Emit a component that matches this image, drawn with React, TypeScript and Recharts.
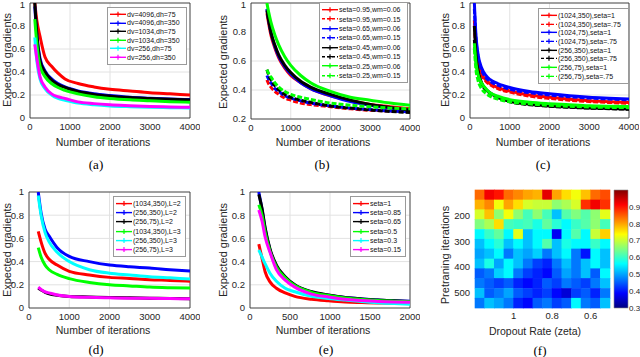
import React from 'react'
import {
  Bar,
  BarChart,
  CartesianGrid,
  Line,
  LineChart,
  ReferenceArea,
  Scatter,
  ScatterChart,
  XAxis,
  YAxis,
} from 'recharts'

const FONT = '"Liberation Sans", Arial, sans-serif'
const SERIF = '"Liberation Serif", "Times New Roman", serif'
const AXIS = '#262626'
const GRID = '#e2e2e2'

// shared ticks
const ticks4k = [0, 1000, 2000, 3000, 4000]
const ticks2k = [0, 500, 1000, 1500, 2000]
const ticksUnit = [0, 0.2, 0.4, 0.6, 0.8, 1]
const ticksB = [0.2, 0.4, 0.6, 0.8, 1]

// (a) dv / dh
const itersA = [120, 170, 250, 375, 540, 700, 875, 1200, 1600, 2000, 2500, 3000, 3500, 4000]
const a4096_75 = [1.0, 0.85, 0.71, 0.53, 0.45, 0.39, 0.34, 0.3, 0.27, 0.25, 0.235, 0.22, 0.21, 0.2]
const a4096_350 = [0.97, 0.72, 0.52, 0.41, 0.34, 0.3, 0.27, 0.235, 0.21, 0.195, 0.18, 0.172, 0.165, 0.16]
const a1034_75 = [1.0, 0.74, 0.5, 0.4, 0.33, 0.29, 0.265, 0.23, 0.205, 0.19, 0.178, 0.17, 0.162, 0.157]
const a1034_350 = [0.86, 0.65, 0.45, 0.36, 0.3, 0.265, 0.24, 0.21, 0.185, 0.17, 0.158, 0.15, 0.142, 0.137]
const a256_75 = [0.7, 0.5, 0.34, 0.255, 0.2, 0.17, 0.155, 0.13, 0.115, 0.105, 0.098, 0.093, 0.09, 0.088]
const a256_350 = [0.64, 0.52, 0.36, 0.27, 0.21, 0.185, 0.17, 0.14, 0.125, 0.115, 0.107, 0.1, 0.096, 0.093]

// (b) seta / wm
const itersB = [400, 450, 500, 600, 700, 850, 1000, 1250, 1500, 2000, 2500, 3000, 3500, 4000]
const b95_06 = [0.93, 0.85, 0.78, 0.69, 0.62, 0.55, 0.5, 0.45, 0.41, 0.36, 0.33, 0.3, 0.285, 0.27]
const b95_15 = [0.47, 0.44, 0.42, 0.39, 0.37, 0.345, 0.33, 0.31, 0.3, 0.285, 0.27, 0.26, 0.255, 0.25]
const b65_06 = [0.96, 0.87, 0.8, 0.7, 0.63, 0.56, 0.51, 0.45, 0.41, 0.36, 0.32, 0.295, 0.275, 0.26]
const b65_15 = [0.5, 0.47, 0.45, 0.41, 0.39, 0.36, 0.345, 0.325, 0.31, 0.29, 0.275, 0.265, 0.255, 0.25]
const b45_06 = [0.95, 0.87, 0.8, 0.71, 0.64, 0.57, 0.52, 0.46, 0.42, 0.37, 0.33, 0.3, 0.28, 0.26]
const b45_15 = [0.54, 0.5, 0.47, 0.43, 0.4, 0.37, 0.35, 0.33, 0.315, 0.29, 0.275, 0.262, 0.252, 0.245]
const b25_06 = [1.0, 0.93, 0.87, 0.78, 0.71, 0.63, 0.57, 0.5, 0.45, 0.39, 0.35, 0.33, 0.31, 0.295]
const b25_15 = [0.54, 0.51, 0.49, 0.45, 0.42, 0.39, 0.37, 0.35, 0.335, 0.31, 0.295, 0.285, 0.275, 0.27]

// (c) (dv,dh), seta
const itersC = [110, 150, 200, 300, 400, 500, 700, 1000, 1500, 2000, 2500, 3000, 3500, 4000]
const c1024_350_1 = [0.85, 0.62, 0.5, 0.38, 0.33, 0.3, 0.265, 0.235, 0.2, 0.18, 0.163, 0.15, 0.142, 0.135]
const c1024_350_75 = [0.8, 0.6, 0.48, 0.37, 0.32, 0.29, 0.255, 0.225, 0.19, 0.17, 0.155, 0.143, 0.135, 0.128]
const c1024_75_1 = [1.0, 0.72, 0.56, 0.43, 0.37, 0.335, 0.3, 0.265, 0.23, 0.21, 0.193, 0.18, 0.172, 0.165]
const c1024_75_75 = [0.95, 0.68, 0.54, 0.41, 0.35, 0.32, 0.285, 0.25, 0.22, 0.2, 0.185, 0.173, 0.165, 0.158]
const c256_350_1 = [0.8, 0.55, 0.42, 0.3, 0.25, 0.22, 0.18, 0.145, 0.12, 0.105, 0.095, 0.088, 0.083, 0.078]
const c256_350_75 = [0.68, 0.5, 0.4, 0.29, 0.24, 0.21, 0.175, 0.14, 0.116, 0.102, 0.093, 0.086, 0.081, 0.076]
const c256_75_1 = [0.65, 0.48, 0.38, 0.3, 0.255, 0.22, 0.19, 0.16, 0.138, 0.125, 0.115, 0.106, 0.102, 0.1]
const c256_75_75 = [0.6, 0.42, 0.33, 0.25, 0.215, 0.19, 0.165, 0.14, 0.123, 0.11, 0.102, 0.096, 0.092, 0.09]

// (d) (dv,dh), L
const itersD = [230, 300, 400, 500, 700, 1000, 1500, 2000, 2500, 3000, 3500, 4000]
const d1034_350_2 = [0.66, 0.57, 0.47, 0.42, 0.37, 0.316, 0.285, 0.264, 0.255, 0.244, 0.238, 0.23]
const d256_350_2 = [1.0, 0.82, 0.68, 0.62, 0.52, 0.445, 0.4, 0.37, 0.355, 0.345, 0.33, 0.318]
const d256_75_2 = [0.17, 0.155, 0.135, 0.122, 0.11, 0.1, 0.095, 0.09, 0.088, 0.085, 0.082, 0.08]
const d1034_350_3 = [0.52, 0.44, 0.37, 0.33, 0.29, 0.253, 0.22, 0.2, 0.19, 0.18, 0.175, 0.172]
const d256_350_3 = [0.97, 0.8, 0.65, 0.57, 0.48, 0.4, 0.33, 0.3, 0.285, 0.27, 0.26, 0.25]
const d256_75_3 = [0.18, 0.16, 0.14, 0.13, 0.112, 0.1, 0.092, 0.088, 0.085, 0.083, 0.081, 0.08]

// (e) seta
const itersE = [110, 150, 190, 250, 330, 440, 560, 770, 980, 1190, 1400, 1600, 1800, 2000]
const e1 = [0.55, 0.43, 0.31, 0.225, 0.17, 0.13, 0.1, 0.075, 0.062, 0.052, 0.047, 0.043, 0.04, 0.038]
const e85 = [1.0, 0.85, 0.68, 0.5, 0.36, 0.265, 0.196, 0.138, 0.11, 0.09, 0.078, 0.069, 0.063, 0.058]
const e65 = [0.98, 0.86, 0.69, 0.51, 0.37, 0.27, 0.2, 0.14, 0.112, 0.09, 0.078, 0.068, 0.062, 0.057]
const e5 = [0.89, 0.8, 0.65, 0.49, 0.355, 0.26, 0.193, 0.135, 0.107, 0.087, 0.074, 0.065, 0.059, 0.054]
const e3 = [0.5, 0.44, 0.38, 0.3, 0.23, 0.17, 0.14, 0.1, 0.082, 0.068, 0.055, 0.045, 0.038, 0.033]
const e15 = [0.845, 0.75, 0.61, 0.48, 0.33, 0.24, 0.18, 0.12, 0.095, 0.075, 0.065, 0.057, 0.052, 0.049]

// (f) heatmap: dropout rate columns, pretraining iteration rows
const zetaCols = [1.175, 1.125, 1.075, 1.025, 0.975, 0.925, 0.875, 0.825, 0.775, 0.725, 0.675, 0.625, 0.575, 0.525]
const rowIters = [119, 158, 196, 234, 273, 311, 349, 388, 426, 464, 503, 541]
const heatValues = [
  [0.84, 0.92, 0.9, 0.84, 0.82, 0.8, 0.79, 0.93, 0.8, 0.76, 0.73, 0.78, 0.84, 0.86],
  [0.79, 0.82, 0.73, 0.8, 0.76, 0.71, 0.7, 0.7, 0.66, 0.68, 0.71, 0.88, 0.92, 0.88],
  [0.71, 0.78, 0.66, 0.73, 0.66, 0.61, 0.66, 0.61, 0.52, 0.62, 0.65, 0.62, 0.66, 0.72],
  [0.65, 0.68, 0.76, 0.61, 0.6, 0.61, 0.58, 0.63, 0.59, 0.56, 0.6, 0.62, 0.66, 0.61],
  [0.56, 0.6, 0.63, 0.56, 0.72, 0.52, 0.56, 0.56, 0.38, 0.56, 0.62, 0.56, 0.7, 0.77],
  [0.52, 0.56, 0.59, 0.52, 0.56, 0.52, 0.56, 0.62, 0.52, 0.58, 0.56, 0.56, 0.6, 0.56],
  [0.5, 0.52, 0.56, 0.47, 0.52, 0.5, 0.53, 0.47, 0.52, 0.56, 0.47, 0.4, 0.56, 0.52],
  [0.52, 0.58, 0.5, 0.56, 0.52, 0.47, 0.43, 0.41, 0.47, 0.52, 0.47, 0.52, 0.56, 0.52],
  [0.45, 0.47, 0.53, 0.56, 0.47, 0.43, 0.41, 0.39, 0.45, 0.5, 0.47, 0.52, 0.45, 0.56],
  [0.47, 0.45, 0.43, 0.45, 0.41, 0.39, 0.41, 0.45, 0.43, 0.47, 0.45, 0.43, 0.47, 0.52],
  [0.52, 0.45, 0.47, 0.5, 0.45, 0.43, 0.41, 0.43, 0.39, 0.36, 0.43, 0.45, 0.41, 0.47],
  [0.47, 0.52, 0.5, 0.47, 0.41, 0.39, 0.45, 0.47, 0.43, 0.45, 0.56, 0.47, 0.45, 0.52],
]
const colorbarTicks = [0.3, 0.4, 0.5, 0.6, 0.7, 0.8, 0.9]
const colorbarRange = [{ name: 'accuracy', range: [0.3, 1] }]

type Series = { name: string; color: string; dashed?: boolean; values: number[] }

const RED = '#ff0000'
const BLUE = '#0000ff'
const BLACK = '#000000'
const GREEN = '#00ff00'
const CYAN = '#00ffff'
const MAGENTA = '#ff00ff'

const seriesA: Series[] = [
  { name: 'dv=4096,dh=75', color: RED, values: a4096_75 },
  { name: 'dv=4096,dh=350', color: BLUE, values: a4096_350 },
  { name: 'dv=1034,dh=75', color: BLACK, values: a1034_75 },
  { name: 'dv=1034,dh=350', color: GREEN, values: a1034_350 },
  { name: 'dv=256,dh=75', color: CYAN, values: a256_75 },
  { name: 'dv=256,dh=350', color: MAGENTA, values: a256_350 },
]
const seriesB: Series[] = [
  { name: 'seta=0.95,wm=0.06', color: RED, values: b95_06 },
  { name: 'seta=0.95,wm=0.15', color: RED, dashed: true, values: b95_15 },
  { name: 'seta=0.65,wm=0.06', color: BLUE, values: b65_06 },
  { name: 'seta=0.65,wm=0.15', color: BLUE, dashed: true, values: b65_15 },
  { name: 'seta=0.45,wm=0.06', color: BLACK, values: b45_06 },
  { name: 'seta=0.45,wm=0.15', color: BLACK, dashed: true, values: b45_15 },
  { name: 'seta=0.25,wm=0.06', color: GREEN, values: b25_06 },
  { name: 'seta=0.25,wm=0.15', color: GREEN, dashed: true, values: b25_15 },
]
const seriesC: Series[] = [
  { name: '(1024,350),seta=1', color: RED, values: c1024_350_1 },
  { name: '(1024,350),seta=.75', color: RED, dashed: true, values: c1024_350_75 },
  { name: '(1024,75),seta=1', color: BLUE, values: c1024_75_1 },
  { name: '(1024,75),seta=.75', color: BLUE, dashed: true, values: c1024_75_75 },
  { name: '(256,350),seta=1', color: BLACK, values: c256_350_1 },
  { name: '(256,350),seta=.75', color: BLACK, dashed: true, values: c256_350_75 },
  { name: '(256,75),seta=1', color: GREEN, values: c256_75_1 },
  { name: '(256,75),seta=.75', color: GREEN, dashed: true, values: c256_75_75 },
]
const seriesD: Series[] = [
  { name: '(1034,350),L=2', color: RED, values: d1034_350_2 },
  { name: '(256,350),L=2', color: BLUE, values: d256_350_2 },
  { name: '(256,75),L=2', color: BLACK, values: d256_75_2 },
  { name: '(1034,350),L=3', color: GREEN, values: d1034_350_3 },
  { name: '(256,350),L=3', color: CYAN, values: d256_350_3 },
  { name: '(256,75),L=3', color: MAGENTA, values: d256_75_3 },
]
const seriesE: Series[] = [
  { name: 'seta=1', color: RED, values: e1 },
  { name: 'seta=0.85', color: BLUE, values: e85 },
  { name: 'seta=0.65', color: BLACK, values: e65 },
  { name: 'seta=0.5', color: GREEN, values: e5 },
  { name: 'seta=0.3', color: CYAN, values: e3 },
  { name: 'seta=0.15', color: MAGENTA, values: e15 },
]

const tickStyle = { fontSize: 9.5, fill: AXIS, fontFamily: FONT }

function jet(v: number) {
  const t = Math.min(1, Math.max(0, (v - 0.3) / 0.7))
  const ch = (x: number) => Math.round(255 * Math.min(1, Math.max(0, x)))
  const r = ch(1.5 - Math.abs(4 * t - 3))
  const g = ch(1.5 - Math.abs(4 * t - 2))
  const b = ch(1.5 - Math.abs(4 * t - 1))
  return `rgb(${r},${g},${b})`
}

interface PanelProps {
  left: number
  top: number
  width: number
  height: number
  mTop: number
  mBottom: number
  yWidth: number
  iters: number[]
  series: Series[]
  xDomain: [number, number]
  xTicks: number[]
  yDomain: [number, number]
  yTicks: number[]
}

function CurvePanel({ left, top, width, height, mTop, mBottom, yWidth, iters, series, xDomain, xTicks, yDomain, yTicks }: PanelProps) {
  const data = iters.map((it, i) => {
    const row: Record<string, number> = { it }
    series.forEach((s, k) => {
      row['s' + k] = s.values[i]
    })
    return row
  })

  return (
    <div style={{ position: 'absolute', left, top }}>
      <LineChart width={width} height={height} data={data} margin={{ top: mTop, right: 10, bottom: mBottom, left: 0 }}>
        <CartesianGrid stroke={GRID} />
        <XAxis
          type="number"
          dataKey="it"
          domain={xDomain}
          ticks={xTicks}
          height={20}
          axisLine={false}
          tickLine={false}
          tickSize={0}
          tickMargin={5}
          tick={tickStyle}
          allowDataOverflow
        />
        <YAxis
          type="number"
          domain={yDomain}
          ticks={yTicks}
          width={yWidth}
          axisLine={false}
          tickLine={false}
          tickSize={0}
          tickMargin={5}
          tick={tickStyle}
          allowDataOverflow
        />
        {series.map((s, k) => (
          <Line
            key={s.name}
            dataKey={'s' + k}
            type="monotone"
            stroke={s.color}
            strokeWidth={3}
            strokeDasharray={s.dashed ? '5 2' : undefined}
            dot={false}
            isAnimationActive={false}
          />
        ))}
        <ReferenceArea x1={xDomain[0]} x2={xDomain[1]} y1={yDomain[0]} y2={yDomain[1]} fill="none" stroke={AXIS} strokeWidth={0.8} />
      </LineChart>
    </div>
  )
}

function LegendBox({ x, y, w, rowH, series }: { x: number; y: number; w: number; rowH: number; series: Series[] }) {
  const mid = rowH / 2
  return (
    <div
      style={{
        position: 'absolute',
        left: x,
        top: y,
        width: w,
        boxSizing: 'border-box',
        border: '1px solid #9a9a9a',
        background: '#fff',
        padding: '2px 0',
        fontFamily: FONT,
        fontSize: 7,
        color: '#111',
      }}
    >
      {series.map((s) => (
        <div key={s.name} style={{ display: 'flex', alignItems: 'center', height: rowH }}>
          <svg width={18} height={rowH} style={{ flex: 'none', marginLeft: 1 }}>
            <line x1={1} x2={17} y1={mid} y2={mid} stroke={s.color} strokeWidth={1.4} strokeDasharray={s.dashed ? '3 2' : undefined} />
            <path d={`M9 ${mid - 2.5}V${mid + 2.5}M6.5 ${mid}H11.5`} stroke={s.color} strokeWidth={1.2} />
          </svg>
          <span style={{ whiteSpace: 'nowrap', lineHeight: 1 }}>{s.name}</span>
        </div>
      ))}
    </div>
  )
}

function Label({ x, y, text, size = 10.5, rotate = false, serif = false }: { x: number; y: number; text: string; size?: number; rotate?: boolean; serif?: boolean }) {
  return (
    <div
      style={{
        position: 'absolute',
        left: x,
        top: y,
        transform: `translate(-50%, -50%)${rotate ? ' rotate(-90deg)' : ''}`,
        whiteSpace: 'nowrap',
        fontFamily: serif ? SERIF : FONT,
        fontSize: size,
        color: serif ? '#000' : AXIS,
        lineHeight: 1,
      }}
    >
      {text}
    </div>
  )
}

const heatCells = heatValues.flatMap((row, r) => row.map((v, c) => ({ zeta: zetaCols[c], it: rowIters[r], v })))

const HEAT_W = 180
const HEAT_H = 182
const HEAT_M = { top: 15, right: 10, bottom: 29, left: 0 }
const HEAT_Y_W = 35
const cellW = (HEAT_W - HEAT_M.left - HEAT_M.right - HEAT_Y_W) / zetaCols.length
const cellH = (HEAT_H - HEAT_M.top - HEAT_M.bottom - 20) / rowIters.length

function HeatCell(props: any) {
  const { cx, cy, payload } = props
  return <rect x={cx - cellW / 2 - 0.3} y={cy - cellH / 2 - 0.3} width={cellW + 0.6} height={cellH + 0.6} fill={jet(payload.v)} />
}

function Heatmap() {
  return (
    <div style={{ position: 'absolute', left: 440, top: 175 }}>
      <ScatterChart width={HEAT_W} height={HEAT_H} margin={HEAT_M}>
        <XAxis
          type="number"
          dataKey="zeta"
          domain={[0.5, 1.2]}
          reversed
          ticks={[1, 0.8, 0.6]}
          height={20}
          axisLine={false}
          tickLine={false}
          tickSize={0}
          tickMargin={4}
          tick={tickStyle}
        />
        <YAxis
          type="number"
          dataKey="it"
          domain={[100, 560]}
          reversed
          ticks={[200, 300, 400, 500]}
          width={HEAT_Y_W}
          axisLine={false}
          tickLine={false}
          tickSize={0}
          tickMargin={5}
          tick={tickStyle}
        />
        <Scatter data={heatCells} shape={HeatCell} isAnimationActive={false} />
      </ScatterChart>
    </div>
  )
}

function Colorbar() {
  const stops = [1, 0.875, 0.75, 0.625, 0.5, 0.375, 0.25, 0.125, 0]
  return (
    <div style={{ position: 'absolute', left: 604, top: 175 }}>
      <BarChart width={36} height={HEAT_H} data={colorbarRange} margin={{ top: 15, right: 0, bottom: 49, left: 10 }} barCategoryGap={0}>
        <defs>
          <linearGradient id="jetBar" x1="0" y1="0" x2="0" y2="1">
            {stops.map((s, i) => (
              <stop key={i} offset={`${(1 - s) * 100}%`} stopColor={jet(0.3 + s * 0.7)} />
            ))}
          </linearGradient>
        </defs>
        <XAxis dataKey="name" hide />
        <YAxis
          orientation="right"
          type="number"
          domain={[0.3, 1]}
          ticks={colorbarTicks}
          width={12}
          axisLine={false}
          tickLine={false}
          tickSize={0}
          tickMargin={1}
          tick={{ ...tickStyle, fontSize: 8 }}
        />
        <Bar dataKey="range" fill="url(#jetBar)" stroke="#8a8a8a" strokeWidth={0.6} isAnimationActive={false} />
      </BarChart>
    </div>
  )
}

export default function App() {
  return (
    <div style={{ position: 'absolute', left: 0, top: 0, width: 640, height: 357, background: '#fff', overflow: 'hidden' }}>
      <CurvePanel left={0} top={0} width={200} height={175} mTop={3} mBottom={37} yWidth={30} iters={itersA} series={seriesA} xDomain={[0, 4000]} xTicks={ticks4k} yDomain={[0, 1]} yTicks={ticksUnit} />
      <CurvePanel left={220} top={0} width={200} height={175} mTop={3} mBottom={36} yWidth={31} iters={itersB} series={seriesB} xDomain={[0, 4000]} xTicks={ticks4k} yDomain={[0.2, 1]} yTicks={ticksB} />
      <CurvePanel left={440} top={0} width={199} height={175} mTop={3} mBottom={37} yWidth={30} iters={itersC} series={seriesC} xDomain={[0, 4000]} xTicks={ticks4k} yDomain={[0, 1]} yTicks={ticksUnit} />
      <CurvePanel left={0} top={175} width={200} height={182} mTop={17} mBottom={29} yWidth={29} iters={itersD} series={seriesD} xDomain={[0, 4000]} xTicks={ticks4k} yDomain={[0, 1]} yTicks={ticksUnit} />
      <CurvePanel left={220} top={175} width={200} height={182} mTop={17} mBottom={29} yWidth={30} iters={itersE} series={seriesE} xDomain={[0, 2000]} xTicks={ticks2k} yDomain={[0, 1]} yTicks={ticksUnit} />
      <Heatmap />
      <Colorbar />

      <LegendBox x={107} y={7} w={80} rowH={8.6} series={seriesA} />
      <LegendBox x={319} y={2} w={89} rowH={9.4} series={seriesB} />
      <LegendBox x={538} y={8} w={91} rowH={8.7} series={seriesC} />
      <LegendBox x={113} y={196} w={73} rowH={9.2} series={seriesD} />
      <LegendBox x={350} y={196} w={56} rowH={9.2} series={seriesE} />

      <Label x={7} y={60} text="Expected gradients" size={11} rotate />
      <Label x={223} y={62} text="Expected gradients" size={11} rotate />
      <Label x={445} y={60} text="Expected gradients" size={11} rotate />
      <Label x={7} y={250} text="Expected gradients" size={11} rotate />
      <Label x={223} y={250} text="Expected gradients" size={11} rotate />
      <Label x={445} y={255} text="Pretraning iterations" size={11} rotate />

      <Label x={103} y={142} text="Number of iterations" />
      <Label x={323} y={142} text="Number of iterations" />
      <Label x={543} y={142} text="Number of iterations" />
      <Label x={103} y={330} text="Number of iterations" />
      <Label x={323} y={330} text="Number of iterations" />
      <Label x={535} y={331} text="Dropout Rate (zeta)" />

      <Label x={96} y={164} text="(a)" size={13} serif />
      <Label x={322} y={164} text="(b)" size={13} serif />
      <Label x={543} y={164} text="(c)" size={13} serif />
      <Label x={96} y={349} text="(d)" size={13} serif />
      <Label x={326} y={349} text="(e)" size={13} serif />
      <Label x={540} y={350} text="(f)" size={13} serif />
    </div>
  )
}
